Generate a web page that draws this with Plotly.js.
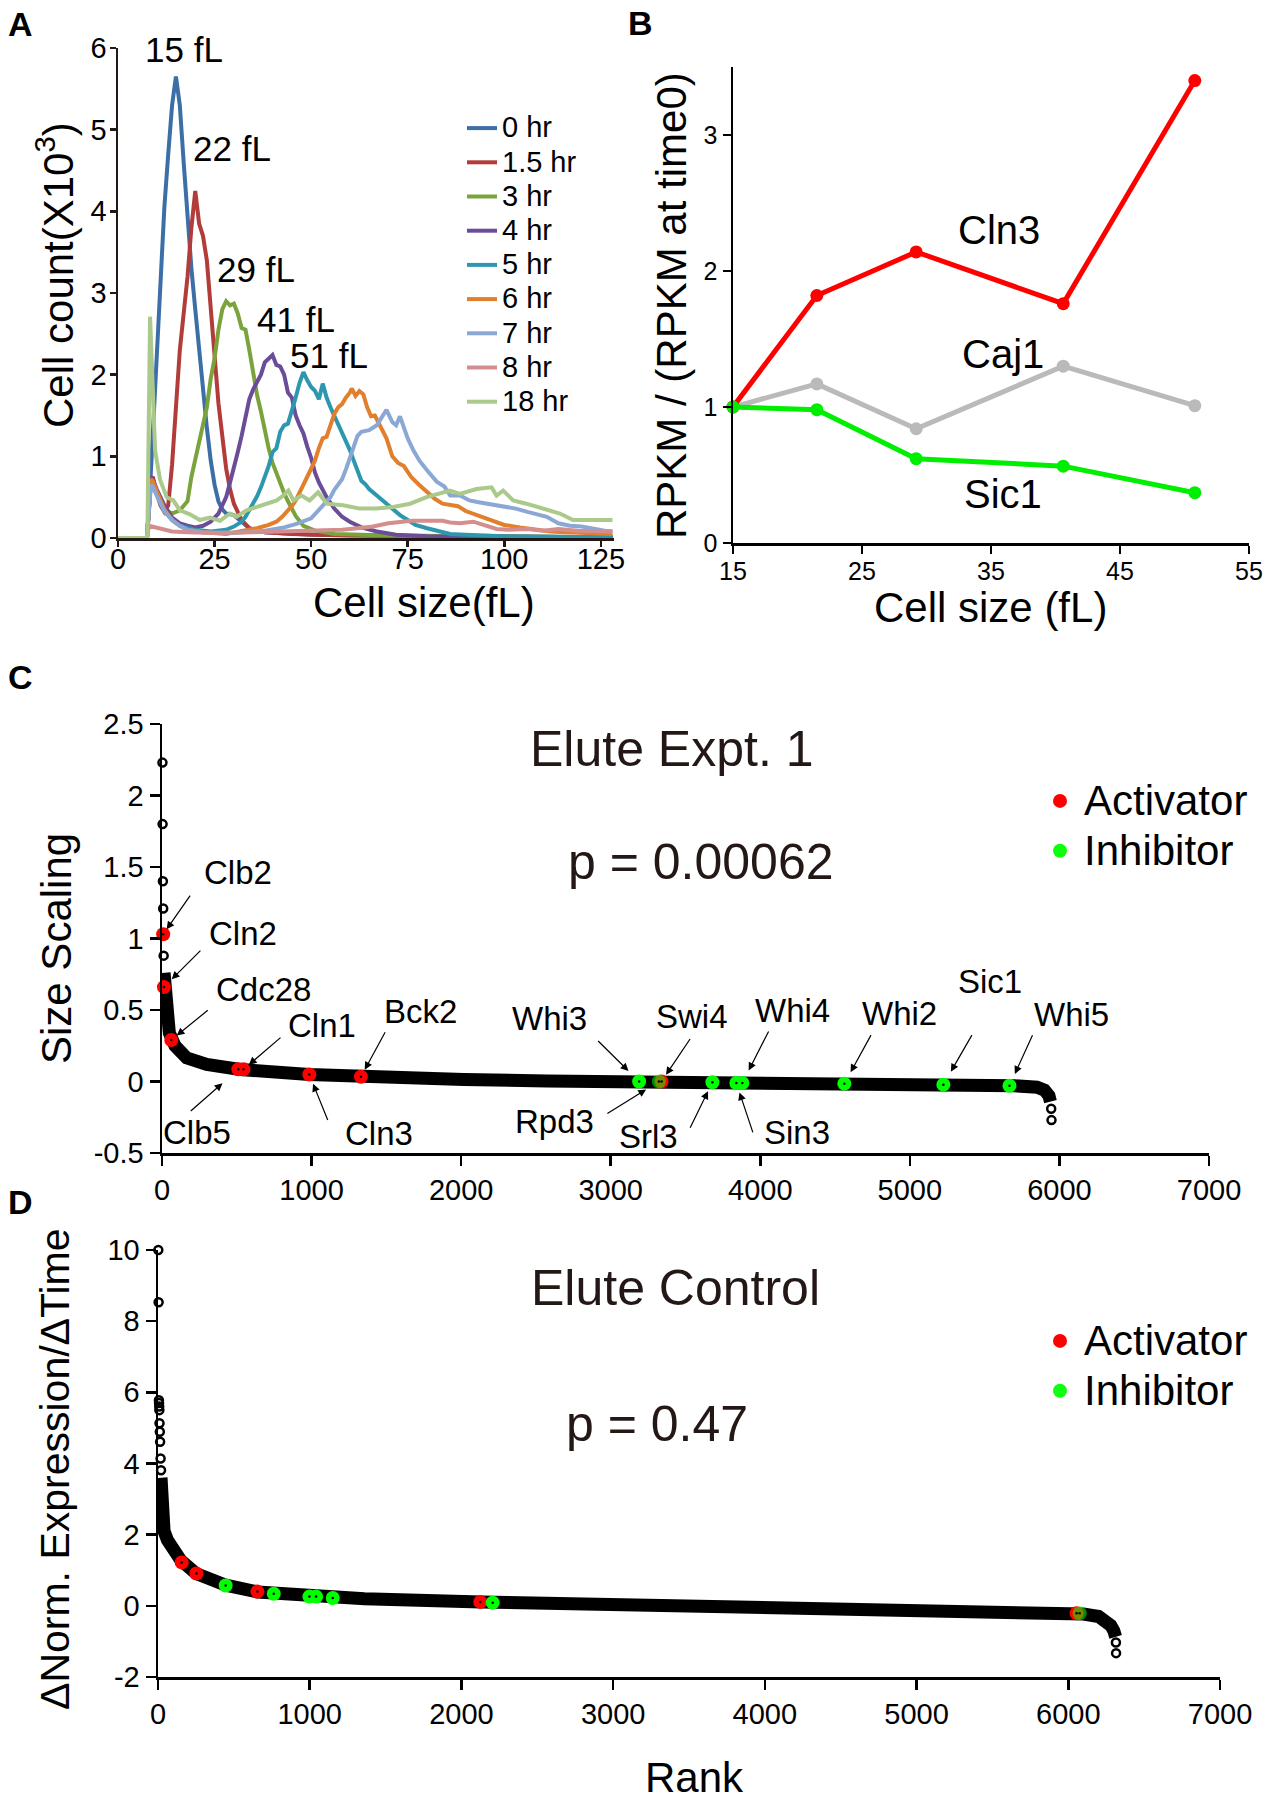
<!DOCTYPE html>
<html>
<head>
<meta charset="utf-8">
<script src="https://cdn.plot.ly/plotly-3.0.1.min.js"></script>
<style>
  body { margin: 0; background: #fff; }
  #divFigure { width: 1271px; height: 1800px; }
</style>
</head>
<body>
<div id="divFigure"></div>
<script>
// ---------- A: cell size distributions (count x 10^3 vs fL) ----------
var hourLabels = ['0 hr', '1.5 hr', '3 hr', '4 hr', '5 hr', '6 hr', '7 hr', '8 hr', '18 hr'];

var size0h = [0, 7.5, 8.5, 9, 10, 11, 12, 13, 14, 15, 16, 17, 18, 19, 20, 21, 22, 23, 24, 25, 26, 27, 28, 30, 32, 34, 38, 45, 60, 90, 128];
var count0h = [0, 0, 0.8, 1.3, 2.2, 3.1, 4.05, 4.7, 5.3, 5.65, 5.3, 4.6, 3.9, 3.3, 2.8, 2.3, 1.85, 1.35, 0.95, 0.65, 0.45, 0.35, 0.3, 0.28, 0.2, 0.12, 0.07, 0.05, 0.03, 0.02, 0.01];

var size15h = [0, 7.5, 8.5, 9, 10, 11, 12, 13, 14, 15, 16, 17, 18, 19, 20, 21, 22, 23, 24, 25, 26, 27, 28, 29, 30, 32, 34, 38, 50, 80, 128];
var count15h = [0, 0, 0.7, 0.75, 0.55, 0.4, 0.32, 0.4, 0.9, 1.6, 2.3, 2.75, 3.2, 3.8, 4.25, 3.85, 3.7, 3.4, 2.8, 2.1, 1.65, 1.25, 0.85, 0.6, 0.42, 0.22, 0.12, 0.07, 0.04, 0.02, 0.01];

var size3h = [0, 7.5, 8.5, 9, 10, 11, 12, 14, 16, 17, 18, 19, 20, 21, 22, 23, 24, 25, 26, 27, 28, 29, 30, 31, 32, 33, 34, 35, 36, 37, 38, 39, 40, 41, 42, 43, 44, 46, 48, 51, 56, 70, 128];
var count3h = [0, 0, 0.65, 0.7, 0.55, 0.42, 0.35, 0.3, 0.34, 0.4, 0.45, 0.75, 0.95, 1.15, 1.4, 1.6, 1.95, 2.2, 2.55, 2.8, 2.9, 2.85, 2.87, 2.75, 2.57, 2.55, 2.3, 2.0, 1.75, 1.55, 1.3, 1.1, 0.92, 0.8, 0.65, 0.55, 0.45, 0.27, 0.15, 0.09, 0.05, 0.03, 0.01];

var size4h = [0, 7.5, 8.5, 9, 10, 11, 12, 14, 16, 18, 20, 22, 24, 26, 28, 29, 30, 31, 32, 33, 34, 35, 36, 37, 38, 39, 40, 41, 42, 43, 44, 45, 46, 47, 48, 49, 50, 51, 52, 54, 56, 58, 60, 63, 67, 72, 80, 128];
var count4h = [0, 0, 0.75, 0.72, 0.6, 0.5, 0.4, 0.25, 0.18, 0.15, 0.13, 0.15, 0.2, 0.3, 0.5, 0.68, 0.85, 1.05, 1.25, 1.45, 1.7, 1.82, 1.92, 2.0, 2.15, 2.2, 2.24, 2.12, 2.1, 2.0, 1.78, 1.72, 1.5, 1.38, 1.28, 1.12, 0.98, 0.8, 0.68, 0.5, 0.36, 0.26, 0.2, 0.13, 0.08, 0.04, 0.02, 0.01];

var size5h = [0, 7.5, 8.5, 9, 10, 11, 12, 14, 16, 18, 20, 24, 28, 30, 32, 33, 35, 36, 37, 38, 39, 40, 41, 42, 43, 44, 45, 46, 47, 48, 49, 50, 51, 52, 53, 54, 55, 56, 57, 58, 59, 60, 61, 62, 63, 64, 65, 67, 69, 71, 73, 75, 77, 80, 83, 86, 90, 100, 128];
var count5h = [0, 0, 0.7, 0.68, 0.55, 0.42, 0.33, 0.22, 0.15, 0.12, 0.1, 0.08, 0.1, 0.14, 0.2, 0.26, 0.42, 0.51, 0.62, 0.74, 0.88, 1.05, 1.1, 1.3, 1.38, 1.4, 1.55, 1.72, 1.9, 2.03, 1.93, 1.85, 1.8, 1.7, 1.89, 1.72, 1.6, 1.5, 1.4, 1.3, 1.18, 1.08, 0.95, 0.82, 0.7, 0.66, 0.6, 0.52, 0.44, 0.36, 0.28, 0.22, 0.16, 0.12, 0.08, 0.05, 0.04, 0.02, 0.01];

var size6h = [0, 7.5, 8.5, 9, 10, 11, 12, 14, 16, 18, 22, 28, 33, 36, 39, 41, 42.5, 44, 45, 46, 47, 48, 49, 50, 51, 52, 53, 54, 55, 56, 57, 58, 59, 60, 60.5, 61.5, 62.5, 63.5, 64.5, 65.5, 66.5, 68, 69.5, 71, 72.5, 74, 76, 78, 80, 82, 84, 86, 88, 90, 93, 96, 100, 104, 108, 112, 116, 120, 124, 128];
var count6h = [0, 0, 0.72, 0.7, 0.58, 0.45, 0.35, 0.22, 0.15, 0.1, 0.07, 0.05, 0.09, 0.12, 0.16, 0.2, 0.26, 0.33, 0.39, 0.46, 0.55, 0.65, 0.75, 0.85, 0.95, 1.1, 1.22, 1.24, 1.38, 1.52, 1.6, 1.64, 1.72, 1.78, 1.83, 1.74, 1.8, 1.76, 1.6, 1.49, 1.5, 1.36, 1.22, 1.0, 0.92, 0.88, 0.74, 0.65, 0.56, 0.48, 0.42, 0.41, 0.39, 0.33, 0.28, 0.22, 0.16, 0.13, 0.1, 0.08, 0.07, 0.06, 0.05, 0.05];

var size7h = [0, 7.5, 8.5, 9, 10, 11, 12, 14, 16, 18, 22, 30, 38, 43, 46, 50, 53, 55, 56, 58, 59, 60, 61, 62, 63, 65, 67, 68, 69.5, 71, 72, 73, 74, 75, 76.5, 78, 80, 82.5, 84.5, 86, 88.5, 91, 93, 95.5, 99.5, 103, 106, 109, 111, 114, 117, 120, 123, 126, 128];
var count7h = [0, 0, 0.65, 0.63, 0.52, 0.42, 0.33, 0.22, 0.15, 0.1, 0.07, 0.06, 0.09, 0.13, 0.17, 0.24, 0.39, 0.5, 0.59, 0.72, 0.84, 0.98, 1.14, 1.25, 1.3, 1.32, 1.38, 1.45, 1.57, 1.42, 1.38, 1.49, 1.36, 1.22, 1.07, 0.95, 0.83, 0.69, 0.63, 0.52, 0.52, 0.46, 0.44, 0.42, 0.38, 0.36, 0.32, 0.28, 0.26, 0.18, 0.15, 0.14, 0.11, 0.09, 0.08];

var size8h = [0, 7.5, 8, 9, 10, 12, 14, 18, 25, 35, 45, 52, 58, 62, 66, 70, 73, 76, 80, 84, 86, 88.5, 92, 95, 98, 101, 106, 110, 114, 119, 123, 128];
var count8h = [0, 0, 0.15, 0.14, 0.13, 0.1, 0.08, 0.07, 0.06, 0.07, 0.08, 0.09, 0.1, 0.12, 0.14, 0.18, 0.2, 0.21, 0.21, 0.21, 0.19, 0.18, 0.2, 0.15, 0.11, 0.1, 0.11, 0.09, 0.11, 0.09, 0.09, 0.08];

var size18h = [0, 7.6, 8.3, 9, 9.6, 10.9, 12.6, 14.3, 16, 18.6, 21.2, 23.8, 26.4, 29, 30.7, 33.3, 35.9, 38.5, 41.1, 42.8, 44.1, 45.4, 47.5, 49.6, 51.8, 54, 58.3, 62.6, 66.9, 71.2, 75.6, 79.9, 83.4, 85.9, 88.5, 92.8, 96.7, 98, 99.7, 102.3, 105.7, 110, 114.4, 117.8, 123, 126.4, 128];
var count18h = [0, 0, 2.71, 1.7, 1.07, 0.71, 0.5, 0.46, 0.34, 0.29, 0.22, 0.25, 0.21, 0.3, 0.26, 0.34, 0.38, 0.42, 0.46, 0.52, 0.58, 0.46, 0.52, 0.46, 0.56, 0.42, 0.4, 0.36, 0.36, 0.38, 0.42, 0.5, 0.54, 0.58, 0.54, 0.6, 0.62, 0.52, 0.58, 0.46, 0.42, 0.36, 0.3, 0.22, 0.22, 0.23, 0.22];

var peakLabels = ['15 fL', '22 fL', '29 fL', '41 fL', '51 fL'];

// ---------- B: RPKM relative to time 0 ----------
var bSize = [15, 21.5, 29.2, 40.6, 50.8];
var cln3Rel = [1, 1.82, 2.14, 1.76, 3.40];
var caj1Rel = [1, 1.17, 0.84, 1.30, 1.01];
var sic1Rel = [1, 0.98, 0.62, 0.565, 0.37];

// ---------- C: Elute Expt. 1, size scaling by rank ----------
var rankC = [14, 20, 31, 49, 87, 165, 299, 522, 985, 1328, 2017, 2575, 3200, 4000, 4600, 5200, 5700, 5850, 5900, 5930, 5940];
var scalingC = [0.76, 0.57, 0.43, 0.34, 0.25, 0.165, 0.12, 0.084, 0.049, 0.033, 0.014, 0.004, 0.0, -0.008, -0.015, -0.022, -0.03, -0.04, -0.06, -0.1, -0.14];
var outlierRankC = [3, 4, 6, 8, 11, 5945, 5947];
var outlierScalingC = [2.23, 1.80, 1.40, 1.21, 0.88, -0.19, -0.27];
var activatorNamesC = ['Clb2', 'Cln2', 'Cdc28', 'Clb5', 'Cln1', 'Cln3', 'Bck2', 'Swi4'];
var activatorRankC = [8, 13, 62, 510, 545, 985, 1330, 3340];
var activatorScalingC = [1.03, 0.66, 0.29, 0.085, 0.085, 0.049, 0.033, 0.0];
var inhibitorNamesC = ['Whi3', 'Rpd3', 'Srl3', 'Sin3', 'Whi4', 'Whi2', 'Sic1', 'Whi5'];
var inhibitorRankC = [3190, 3322, 3680, 3840, 3880, 4562, 5224, 5666];
var inhibitorScalingC = [0.0, 0.0, -0.005, -0.01, -0.01, -0.015, -0.022, -0.03];

// ---------- D: Elute Control ----------
var rankD = [20, 30, 40, 62, 106, 150, 250, 448, 657, 1008, 1360, 2130, 2590, 3000, 3500, 4000, 4500, 5000, 5500, 6000, 6100, 6200, 6250, 6280, 6300, 6312];
var rateD = [3.6, 2.7, 2.1, 1.85, 1.6, 1.28, 0.91, 0.58, 0.39, 0.25, 0.2, 0.11, 0.08, 0.05, 0.02, -0.01, -0.04, -0.08, -0.12, -0.19, -0.23, -0.3, -0.4, -0.55, -0.7, -0.87];
var outlierRankD = [2, 4, 6, 7, 8, 9, 10, 12, 14, 17, 20, 6314, 6315];
var outlierRateD = [10.0, 8.53, 5.78, 5.7, 5.6, 5.5, 5.13, 4.89, 4.61, 4.14, 3.81, -1.03, -1.33];
var activatorRankD = [156, 253, 655, 2124, 6055];
var activatorRateD = [1.22, 0.91, 0.40, 0.11, -0.21];
var inhibitorRankD = [446, 763, 998, 1042, 1152, 2206, 6075];
var inhibitorRateD = [0.57, 0.34, 0.26, 0.26, 0.22, 0.09, -0.21];

var rankTicks = [0, 1000, 2000, 3000, 4000, 5000, 6000, 7000];
var rankTickText = ['0', '1000', '2000', '3000', '4000', '5000', '6000', '7000'];
var cTickVals = [-0.5, 0, 0.5, 1, 1.5, 2, 2.5];
var cTickText = ['-0.5', '0', '0.5', '1', '1.5', '2', '2.5'];
var dTickVals = [-2, 0, 2, 4, 6, 8, 10];
var dTickText = ['-2', '0', '2', '4', '6', '8', '10'];

// ---------- traces ----------
var FONT = 'Liberation Sans, Arial, Helvetica, sans-serif';
var W = 1271, H = 1800;
function px(x) { return x / W; }
function py(y) { return 1 - y / H; }
// legend rows are spaced by the legend font; the label itself is drawn larger
function bigLabel(t, size) { return '<span style="font-size:' + size + 'px">' + t + '</span>'; }

var hourColors = ['#3c6ea8', '#b23c3a', '#7aa33c', '#6a4c98', '#2e97b0', '#e27f2d', '#8ba8d4', '#d48e8e', '#aac98a'];
var sizeSets = [size0h, size15h, size3h, size4h, size5h, size6h, size7h, size8h, size18h];
var countSets = [count0h, count15h, count3h, count4h, count5h, count6h, count7h, count8h, count18h];

var data = [];
for (var i = 0; i < hourLabels.length; i++) {
  data.push({
    x: sizeSets[i], y: countSets[i], type: 'scatter', mode: 'lines',
    name: bigLabel(hourLabels[i], 29), line: {color: hourColors[i], width: 4},
    xaxis: 'x', yaxis: 'y', legend: 'legend'
  });
}

function bLine(y, color) {
  return {x: bSize, y: y, type: 'scatter', mode: 'lines+markers', showlegend: false,
    line: {color: color, width: 5}, marker: {color: color, size: 13},
    cliponaxis: false, xaxis: 'x2', yaxis: 'y2'};
}
data.push(bLine(caj1Rel, '#bababa'));
data.push(bLine(cln3Rel, '#ff0000'));
data.push(bLine(sic1Rel, '#00ee00'));

function rankPanel(xa, ya, legendId, bandX, bandY, outX, outY, actX, actY, inhX, inhY, overlapIdx) {
  var inhOpacity = inhX.map(function (v, k) { return k === overlapIdx ? 0.55 : 1; });
  return [
    {x: bandX, y: bandY, type: 'scatter', mode: 'lines', showlegend: false,
      line: {color: 'black', width: 13}, xaxis: xa, yaxis: ya},
    {x: outX, y: outY, type: 'scatter', mode: 'markers', showlegend: false, cliponaxis: false,
      marker: {symbol: 'circle-open', size: 8, color: 'black', line: {width: 2.5}}, xaxis: xa, yaxis: ya},
    {x: actX, y: actY, type: 'scatter', mode: 'markers', name: bigLabel('Activator', 42), legend: legendId,
      cliponaxis: false, marker: {color: '#ff0000', size: 14}, xaxis: xa, yaxis: ya},
    {x: inhX, y: inhY, type: 'scatter', mode: 'markers', name: bigLabel('Inhibitor', 42), legend: legendId,
      cliponaxis: false, marker: {color: '#00ff00', size: 14, opacity: inhOpacity}, xaxis: xa, yaxis: ya},
    {x: actX.concat(inhX), y: actY.concat(inhY), type: 'scatter', mode: 'markers', showlegend: false,
      cliponaxis: false, marker: {color: 'black', size: 2.5}, xaxis: xa, yaxis: ya}
  ];
}
data = data.concat(rankPanel('x3', 'y3', 'legend2', rankC, scalingC, outlierRankC, outlierScalingC,
  activatorRankC, activatorScalingC, inhibitorRankC, inhibitorScalingC, 1));
data = data.concat(rankPanel('x4', 'y4', 'legend3', rankD, rateD, outlierRankD, outlierRateD,
  activatorRankD, activatorRateD, inhibitorRankD, inhibitorRateD, 6));

// ---------- annotations ----------
var ann = [];
function paperText(text, x, y, size, extra) {
  ann.push(Object.assign({text: text, xref: 'paper', yref: 'paper', x: px(x), y: py(y),
    showarrow: false, xanchor: 'center', yanchor: 'middle', font: {size: size, color: 'black'}}, extra || {}));
}
paperText('<b>A</b>', 20, 24, 34);
paperText('<b>B</b>', 641, 23, 34);
paperText('<b>C</b>', 20, 677, 34);
paperText('<b>D</b>', 20, 1202, 34);
paperText('Cell count(X10<sup>3</sup>)', 55, 275, 42, {textangle: -90});
paperText('Cell size(fL)', 424, 602, 42);
paperText('RPKM / (RPKM at time0)', 671, 306, 42, {textangle: -90});
paperText('Cell size (fL)', 990, 608, 42);
paperText('Size Scaling', 56, 949, 42, {textangle: -90});
paperText('ΔNorm. Expression/ΔTime', 55, 1469, 41, {textangle: -90});
paperText('Rank', 695, 1777, 42);
paperText('Elute Expt. 1', 672, 749, 50, {font: {size: 50, color: '#231815'}});
paperText('p = 0.00062', 701, 862, 50, {font: {size: 50, color: '#231815'}});
paperText('Elute Control', 675, 1288, 50, {font: {size: 50, color: '#231815'}});
paperText('p = 0.47', 657, 1424, 50, {font: {size: 50, color: '#231815'}});

var peakPos = [[17.1, 5.98], [29.5, 4.77], [35.7, 3.29], [46.1, 2.67], [54.6, 2.23]];
peakLabels.forEach(function (t, k) {
  ann.push({text: t, xref: 'x', yref: 'y', x: peakPos[k][0], y: peakPos[k][1], showarrow: false,
    font: {size: 35, color: 'black'}});
});
[['Cln3', 35.65, 2.30], ['Caj1', 35.9, 1.39], ['Sic1', 35.9, 0.36]].forEach(function (g) {
  ann.push({text: g[0], xref: 'x2', yref: 'y2', x: g[1], y: g[2], showarrow: false,
    font: {size: 40, color: 'black'}});
});

// arrow tail offset (ax, ay), standoff, label shift (xshift, yshift), all in px
var labelPlace = {
  Clb2: [28, -40, 6, 75, 62], Cln2: [38, -38, 11, 79, 54], Cdc28: [38, -31, 7, 92, 51],
  Clb5: [-49, 43, 21, -41, -63], Cln1: [38.5, -33, 7, 78.5, 44], Cln3: [19, 47, 10, 70, -59],
  Bck2: [25, -46, 8, 60, 65], Swi4: [29.5, -44, 8, 30, 65],
  Whi3: [-42.5, -42, 15, -90, 63], Rpd3: [-53, 33, 15, -104, -40], Srl3: [-23, 47, 10, -64, -54],
  Sin3: [17, 51, 10, 61, -50], Whi4: [27, -53, 14, 50, 72], Whi2: [27.5, -50, 13, 55, 70],
  Sic1: [29.4, -51, 15, 46.5, 103], Whi5: [23.7, -52, 13, 62, 71]
};
function geneLabels(names, ranks, vals) {
  names.forEach(function (n, k) {
    var p = labelPlace[n];
    ann.push({text: '', xref: 'x3', yref: 'y3', x: ranks[k], y: vals[k], showarrow: true,
      ax: p[0], ay: p[1], standoff: p[2], arrowhead: 2, arrowsize: 1.3, arrowwidth: 1.2, arrowcolor: 'black'});
    ann.push({text: n, xref: 'x3', yref: 'y3', x: ranks[k], y: vals[k], showarrow: false,
      xshift: p[3], yshift: p[4], font: {size: 33, color: 'black'}});
  });
}
geneLabels(activatorNamesC, activatorRankC, activatorScalingC);
geneLabels(inhibitorNamesC, inhibitorRankC, inhibitorScalingC);

// ---------- axes ----------
function axis(extra) {
  return Object.assign({showline: true, linecolor: 'black', linewidth: 2.5, ticks: 'outside', ticklen: 8,
    tickwidth: 2.5, tickcolor: 'black', showgrid: false, zeroline: false,
    tickfont: {size: 29, color: 'black'}, fixedrange: true}, extra);
}
function legendAt(x, y, size, extra) {
  return Object.assign({x: px(x), y: py(y), xanchor: 'left', yanchor: 'top', bgcolor: 'rgba(0,0,0,0)',
    font: {size: size, color: 'black'}, tracegroupgap: 0, itemsizing: 'trace'}, extra || {});
}

var layout = {
  width: W, height: H, margin: {l: 0, r: 0, t: 0, b: 0},
  paper_bgcolor: 'white', plot_bgcolor: 'rgba(0,0,0,0)',
  font: {family: FONT, color: 'black'},
  showlegend: true,
  xaxis: axis({domain: [px(118), px(614)], range: [0, 128.4], tickvals: [0, 25, 50, 75, 100, 125],
    ticklen: 6, ticklabelstandoff: -12, linecolor: '#231815', tickcolor: '#231815', anchor: 'y'}),
  yaxis: axis({domain: [py(538), py(48)], range: [0, 6], dtick: 1, ticklen: 6, ticklabelstandoff: -3,
    linecolor: '#231815', tickcolor: '#231815', anchor: 'x'}),
  xaxis2: axis({domain: [px(733), px(1249)], range: [15, 55], tickvals: [15, 25, 35, 45, 55],
    ticklabelstandoff: -4, tickfont: {size: 25, color: 'black'}, anchor: 'y2'}),
  yaxis2: axis({domain: [py(543), py(67)], range: [0, 3.5], tickvals: [0, 1, 2, 3],
    tickfont: {size: 25, color: 'black'}, anchor: 'x2'}),
  xaxis3: axis({domain: [px(162), px(1209)], range: [0, 7000], tickvals: rankTicks, ticktext: rankTickText,
    ticklen: 10, anchor: 'y3'}),
  yaxis3: axis({domain: [py(1153), py(724)], range: [-0.5, 2.5], tickvals: cTickVals, ticktext: cTickText,
    ticklen: 10, anchor: 'x3'}),
  xaxis4: axis({domain: [px(158), px(1220)], range: [0, 7000], tickvals: rankTicks, ticktext: rankTickText,
    ticklen: 10, anchor: 'y4'}),
  yaxis4: axis({domain: [py(1677), py(1250)], range: [-2, 10], tickvals: dTickVals, ticktext: dTickText,
    ticklen: 10, anchor: 'x4'}),
  legend: legendAt(462, 106, 24),
  legend2: legendAt(1036, 771, 36, {itemwidth: 38}),
  legend3: legendAt(1036, 1311, 36, {itemwidth: 38}),
  annotations: ann
};

var config = {staticPlot: true, displayModeBar: false};

Plotly.newPlot('divFigure', data, layout, config);
</script>
</body>
</html>
